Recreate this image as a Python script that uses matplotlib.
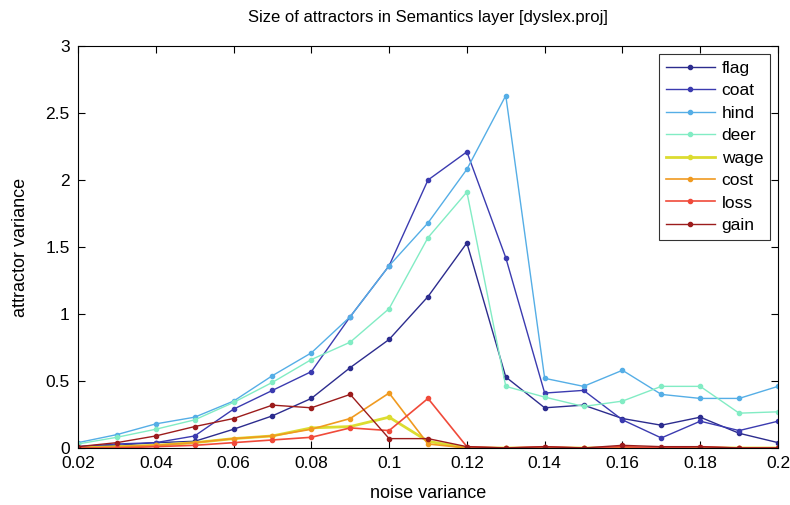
import numpy as np
import matplotlib
matplotlib.use("Agg")
from matplotlib import pyplot as plt

plt.rcParams['font.family'] = ['Liberation Sans', 'DejaVu Sans']

noise = [0.02, 0.03, 0.04, 0.05, 0.06, 0.07, 0.08, 0.09, 0.10, 0.11,
         0.12, 0.13, 0.14, 0.15, 0.16, 0.17, 0.18, 0.19, 0.20]

flag = [0.01, 0.02, 0.04, 0.05, 0.14, 0.24, 0.37, 0.60, 0.81, 1.13,
        1.53, 0.53, 0.30, 0.32, 0.22, 0.17, 0.23, 0.11, 0.04]
coat = [0.01, 0.03, 0.04, 0.09, 0.29, 0.43, 0.57, 0.98, 1.36, 2.00,
        2.21, 1.42, 0.41, 0.43, 0.21, 0.075, 0.20, 0.13, 0.20]
hind = [0.04, 0.10, 0.18, 0.23, 0.35, 0.54, 0.71, 0.98, 1.36, 1.68,
        2.08, 2.63, 0.52, 0.46, 0.58, 0.40, 0.37, 0.37, 0.46]
deer = [0.03, 0.08, 0.14, 0.21, 0.34, 0.49, 0.66, 0.79, 1.04, 1.57,
        1.91, 0.46, 0.38, 0.31, 0.35, 0.46, 0.46, 0.26, 0.27]
wage = [0.00, 0.01, 0.02, 0.04, 0.07, 0.09, 0.15, 0.16, 0.23, 0.05,
        0.00, 0.00, 0.00, 0.00, 0.00, 0.00, 0.00, 0.00, 0.00]
cost = [0.00, 0.01, 0.02, 0.04, 0.07, 0.09, 0.14, 0.22, 0.41, 0.03,
        0.00, 0.00, 0.00, 0.00, 0.00, 0.00, 0.00, 0.00, 0.00]
loss = [0.00, 0.00, 0.01, 0.02, 0.04, 0.06, 0.08, 0.15, 0.13, 0.37,
        0.01, 0.00, 0.01, 0.00, 0.01, 0.00, 0.01, 0.00, 0.00]
gain = [0.01, 0.04, 0.09, 0.16, 0.22, 0.32, 0.30, 0.40, 0.07, 0.07,
        0.01, 0.00, 0.01, 0.00, 0.02, 0.01, 0.01, 0.00, 0.00]

series = [
    ('flag', flag, '#2c2c8e', 1.0),
    ('coat', coat, '#3b3bb0', 1.0),
    ('hind', hind, '#55aee6', 1.0),
    ('deer', deer, '#82ecc4', 1.0),
    ('wage', wage, '#dcdc30', 2.0),
    ('cost', cost, '#f09a20', 1.2),
    ('loss', loss, '#f04a3a', 1.2),
    ('gain', gain, '#9c1c1c', 1.0),
]

fig = plt.figure(figsize=(7.9, 5.05), dpi=100)
ax = fig.add_axes([78 / 790, 1 - 448 / 505, 700 / 790, 402 / 505])

for name, vals, color, lw in series:
    ax.plot(noise, vals, '-', color=color, lw=lw, marker='o', ms=3,
            mfc=color, mec=color, label=name)

ax.set_xlim(0.02, 0.2)
ax.set_ylim(0, 3)
ax.set_xticks([0.02, 0.04, 0.06, 0.08, 0.1, 0.12, 0.14, 0.16, 0.18, 0.2])
ax.set_xticklabels(['0.02', '0.04', '0.06', '0.08', '0.1', '0.12', '0.14', '0.16', '0.18', '0.2'])
ax.set_yticks([0, 0.5, 1, 1.5, 2, 2.5, 3])
ax.set_yticklabels(['0', '0.5', '1', '1.5', '2', '2.5', '3'])
ax.tick_params(direction='in', top=True, right=True, labelsize=12.5, length=5, pad=6)
for s in ax.spines.values():
    s.set_linewidth(0.8)

ax.set_title('Size of attractors in Semantics layer [dyslex.proj]', fontsize=12, pad=17)
ax.set_xlabel('noise variance', fontsize=13, labelpad=10)
ax.set_ylabel('attractor variance', fontsize=13, labelpad=12)

leg = ax.legend(loc='upper right', fontsize=12.5, frameon=True, fancybox=False,
                edgecolor='black', handlelength=2.8, borderpad=0.4,
                labelspacing=0.42, handletextpad=0.4, borderaxespad=0.45)
leg.get_frame().set_linewidth(0.8)

fig.savefig('out.png', dpi=100)
